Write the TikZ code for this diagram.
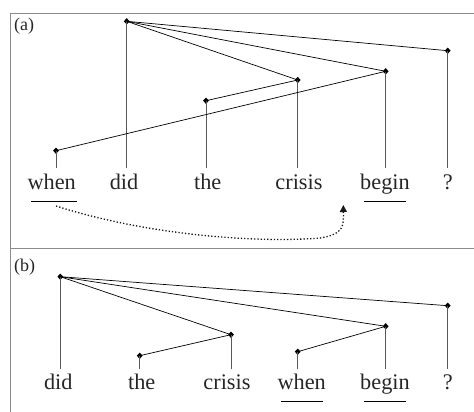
\documentclass[tikz,border=0pt]{standalone}
\usepackage{fontspec}
\setmainfont{Liberation Serif}
\usetikzlibrary{shapes.geometric,arrows.meta}
\begin{document}
\begin{tikzpicture}[x=1pt,y=-1pt,
  dot/.style={diamond,fill=black,inner sep=0pt,minimum width=6pt,minimum height=6.5pt},
  word/.style={inner sep=0pt,text=black!85,font=\fontsize{22.3}{26}\selectfont,anchor=base},
  arc/.style={line width=0.7pt,black},
  stem/.style={line width=0.7pt,black!65},
  uline/.style={line width=1.4pt,black},
  frame/.style={line width=0.9pt,black!45},
  lab/.style={inner sep=0pt,text=black!85,font=\fontsize{18}{21}\selectfont,anchor=west}]
\useasboundingbox (0,0) rectangle (474,412);
\draw[frame] (10,412) -- (10,13.5) -- (474,13.5);
\draw[frame] (10,248) -- (474,248);
% panel (a)
\node[lab] (la) at (14,26) {(a)};
\node[dot] (a1) at (126.7,21.3) {};
\node[dot] (a6) at (447.7,50.7) {};
\node[dot] (a5) at (385.7,71.3) {};
\node[dot] (a4) at (297.7,80) {};
\node[dot] (a3) at (206,100.7) {};
\node[dot] (a0) at (56,150.7) {};
\node[word] (w0) at (51.7,189) {when};
\node[word] (w1) at (124,189) {did};
\node[word] (w2) at (207.7,189) {the};
\node[word] (w3) at (299,189) {crisis};
\node[word] (w4) at (385,189) {begin};
\node[word] (w5) at (447.7,189) {?};
\coordinate (b0) at (56,168.3);
\coordinate (b1) at (126.7,168.3);
\coordinate (b3) at (206,168.3);
\coordinate (b4) at (297.7,168.3);
\coordinate (b5) at (385.7,168.3);
\coordinate (b6) at (447.7,168.3);
\draw[stem] (a0.center) -- (b0);
\draw[stem] (a1.center) -- (b1);
\draw[stem] (a3.center) -- (b3);
\draw[stem] (a4.center) -- (b4);
\draw[stem] (a5.center) -- (b5);
\draw[stem] (a6.center) -- (b6);
\draw[arc] (a1.center) -- (a6.center);
\draw[arc] (a1.center) -- (a5.center);
\draw[arc] (a1.center) -- (a4.center);
\draw[arc] (a4.center) -- (a3.center);
\draw[arc] (a5.center) -- (a0.center);
\coordinate (u0l) at (31,201.7); \coordinate (u0r) at (77.3,201.7);
\coordinate (u4l) at (364.3,201.7); \coordinate (u4r) at (406,201.7);
\draw[uline] (u0l) -- (u0r);
\draw[uline] (u4l) -- (u4r);
\coordinate (s) at (56,206);
\coordinate (t) at (343.3,205);
\draw[line width=1.3pt,dotted,black!90,-{Triangle[length=7pt,width=7pt]}]
  (s) .. controls (150,236) and (260,243) .. (320,238)
      .. controls (345,234) and (343.5,225) .. (t);
% panel (b)
\node[lab] (lb) at (14,266.7) {(b)};
\node[dot] (c1) at (60.3,276.7) {};
\node[dot] (c6) at (447.7,305.7) {};
\node[dot] (c5) at (385.7,326.3) {};
\node[dot] (c3) at (231,334.7) {};
\node[dot] (c2) at (139.7,355.7) {};
\node[dot] (c4) at (297.7,351.7) {};
\node[word] (v1) at (58.3,389) {did};
\node[word] (v2) at (141.7,389) {the};
\node[word] (v3) at (227,389) {crisis};
\node[word] (v4) at (301.7,389) {when};
\node[word] (v5) at (385,389) {begin};
\node[word] (v6) at (447.7,389) {?};
\coordinate (d1) at (60.3,369.3);
\coordinate (d2) at (139.7,369.3);
\coordinate (d3) at (231,369.3);
\coordinate (d4) at (297.7,369.3);
\coordinate (d5) at (385.7,369.3);
\coordinate (d6) at (447.7,369.3);
\draw[stem] (c1.center) -- (d1);
\draw[stem] (c2.center) -- (d2);
\draw[stem] (c3.center) -- (d3);
\draw[stem] (c4.center) -- (d4);
\draw[stem] (c5.center) -- (d5);
\draw[stem] (c6.center) -- (d6);
\draw[arc] (c1.center) -- (c6.center);
\draw[arc] (c1.center) -- (c5.center);
\draw[arc] (c1.center) -- (c3.center);
\draw[arc] (c3.center) -- (c2.center);
\draw[arc] (c5.center) -- (c4.center);
\coordinate (x4l) at (281,401.7); \coordinate (x4r) at (322.7,401.7);
\coordinate (x5l) at (364.3,401.7); \coordinate (x5r) at (406,401.7);
\draw[uline] (x4l) -- (x4r);
\draw[uline] (x5l) -- (x5r);
\end{tikzpicture}
\end{document}
